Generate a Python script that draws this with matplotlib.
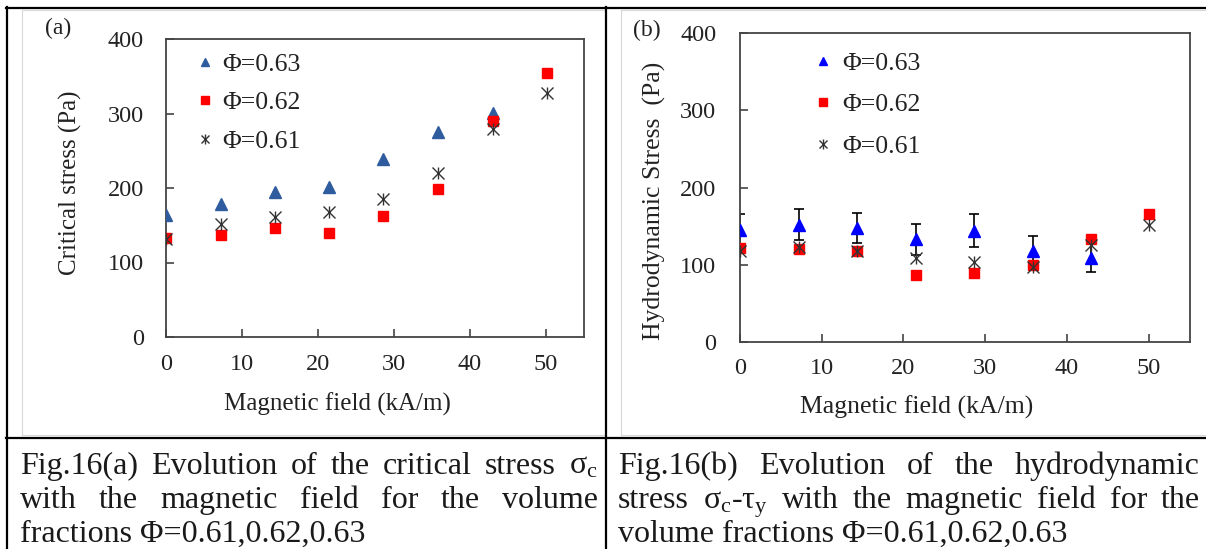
import matplotlib
matplotlib.use("Agg")
import matplotlib.pyplot as plt
from matplotlib.lines import Line2D

# ---- data ----
field = [0, 7.2, 14.3, 21.5, 28.6, 35.8, 43.0, 50.1]

# (a) critical stress
crit_063 = [164, 179, 194, 201, 239, 275, 301]
crit_062 = [133, 137, 146, 139, 163, 199, 290, 354]
crit_061 = [131, 152, 161, 168, 185, 220, 279, 328]

# (b) hydrodynamic stress
hyd_063 = [145, 152, 148, 133, 144, 117, 109]
hyd_063_err = [21, 19.5, 19.5, 20, 21, 20, 19]
hyd_062 = [122, 120, 117, 87, 89, 100, 133, 165]
hyd_061 = [117, 123, 118, 108, 103, 97, 126, 151]

legend_labels = ["Φ=0.63", "Φ=0.62", "Φ=0.61"]
xticks = [0, 10, 20, 30, 40, 50]
yticks = [0, 100, 200, 300, 400]

cap_a = [["Fig.16(a)", "Evolution", "of", "the", "critical", "stress", r"σ$_\mathrm{c}$"],
         ["with", "the", "magnetic", "field", "for", "the", "volume"],
         ["fractions", "Φ=0.61,0.62,0.63"]]
cap_b = [["Fig.16(b)", "Evolution", "of", "the", "hydrodynamic"],
         ["stress", r"σ$_\mathrm{c}$-τ$_\mathrm{y}$", "with", "the", "magnetic", "field", "for", "the"],
         ["volume", "fractions", "Φ=0.61,0.62,0.63"]]

SERIF = "Liberation Serif"
plt.rcParams["font.family"] = SERIF
plt.rcParams["mathtext.fontset"] = "custom"
plt.rcParams["mathtext.rm"] = SERIF
plt.rcParams["mathtext.it"] = SERIF + ":italic"

W, H = 1206, 549
fig = plt.figure(figsize=(W / 100, H / 100), dpi=100)


def fx(x):
    return x / W


def fy(y):
    return 1 - y / H


TXT = "#222222"
AXC = "#444444"
STAR = "#333333"
RED = "#FF0000"


def setup(ax, ypad, xpad):
    ax.set_xlim(0, 55)
    ax.set_ylim(0, 400)
    ax.set_xticks(xticks)
    ax.set_yticks(yticks)
    ax.tick_params(direction="in", length=6, width=1.2, color=AXC,
                   labelsize=17.5, labelcolor=TXT)
    ax.tick_params(axis="x", pad=xpad)
    ax.tick_params(axis="y", pad=ypad)
    for s in ax.spines.values():
        s.set_color(AXC)
        s.set_linewidth(1.3)


def stars(ax, x, y):
    a = ax.plot(x, y, ls="none", marker="x", ms=8, mew=1.0, color=STAR, zorder=4)[0]
    b = ax.plot(x, y, ls="none", marker="|", ms=9, mew=1.0, color=STAR, zorder=4)[0]
    return (a, b)


# ---------------- panel (a) ----------------
ax1 = fig.add_axes([fx(166), fy(337), fx(584 - 166), (337 - 39) / H])
setup(ax1, 16, 12)
h1 = ax1.plot(field[:len(crit_063)], crit_063, ls="none", marker="^", ms=8,
              color="#2E5C9E", zorder=3)[0]
h2 = ax1.plot(field, crit_062, ls="none", marker="s", ms=7.5, color=RED, zorder=3)[0]
h3 = stars(ax1, field, crit_061)
ax1.legend([h1, h2, h3], legend_labels, loc="upper left",
           bbox_to_anchor=(fx(195), fy(53)), bbox_transform=fig.transFigure,
           frameon=False, fontsize=18.5, handlelength=0.8, handletextpad=0.25,
           labelspacing=0.6, markerscale=0.8, borderaxespad=0, borderpad=0,
           labelcolor=TXT)

fig.text(fx(58), fy(28), "(a)", fontsize=17, color=TXT, ha="center", va="center")
fig.text(fx(70), fy(183), "Critical stress (Pa)", fontsize=18, color=TXT,
         rotation=90, ha="center", va="center")
fig.text(fx(337), fy(404), "Magnetic field (kA/m)", fontsize=18, color=TXT,
         ha="center", va="center")

# ---------------- panel (b) ----------------
ax2 = fig.add_axes([fx(740), fy(341.7), fx(1189.5 - 740), (341.7 - 33.3) / H])
setup(ax2, 17, 12)
ax2.errorbar(field[:len(hyd_063)], hyd_063, yerr=hyd_063_err, fmt="none",
             ecolor="black", elinewidth=1.2, capsize=3.5, capthick=1.2, zorder=2)
g1 = ax2.plot(field[:len(hyd_063)], hyd_063, ls="none", marker="^", ms=8,
              color="#0000FF", zorder=3)[0]
g2 = ax2.plot(field, hyd_062, ls="none", marker="s", ms=7.5, color=RED, zorder=3)[0]
g3 = stars(ax2, field, hyd_061)
ax2.legend([g1, g2, g3], legend_labels, loc="upper left",
           bbox_to_anchor=(fx(813), fy(52)), bbox_transform=fig.transFigure,
           frameon=False, fontsize=18.5, handlelength=0.8, handletextpad=0.35,
           labelspacing=0.72, markerscale=0.8, borderaxespad=0, borderpad=0,
           labelcolor=TXT)

fig.text(fx(647), fy(30), "(b)", fontsize=17, color=TXT, ha="center", va="center")
fig.text(fx(654), fy(201), "Hydrodynamic Stress  (Pa)", fontsize=18.5, color=TXT,
         rotation=90, ha="center", va="center")
fig.text(fx(917), fy(407), "Magnetic field (kA/m)", fontsize=18.5, color=TXT,
         ha="center", va="center")

# ---------------- table borders ----------------
def hline(y, x0, x1, c="black", lw=1.6):
    fig.add_artist(Line2D([fx(x0), fx(x1)], [fy(y), fy(y)], color=c, lw=lw))


def vline(x, y0, y1, c="black", lw=1.6):
    fig.add_artist(Line2D([fx(x), fx(x)], [fy(y0), fy(y1)], color=c, lw=lw))


GR = "#d8d8d8"
hline(9.5, 22, 606, GR, 0.8)
hline(435, 22, 604, GR, 0.8)
vline(22, 9.5, 435, GR, 0.8)
hline(9.5, 621, 1206, GR, 0.8)
hline(435, 621, 1206, GR, 0.8)
vline(621, 9.5, 435, GR, 0.8)

hline(8, 6.3, 1206)
hline(438, 6.3, 1206)
vline(7, 7.2, 549)
vline(606, 7.2, 549)

# ---------------- captions (justified) ----------------
CAP_FS = 23
renderer = fig.canvas.get_renderer()


def put_line(words, x0, x1, ybase, justify):
    texts = [fig.text(0, fy(ybase), w, fontsize=CAP_FS, color="#1a1a1a",
                      ha="left", va="baseline") for w in words]
    widths = [t.get_window_extent(renderer).width for t in texts]
    if justify and len(words) > 1:
        gap = (x1 - x0 - sum(widths)) / (len(words) - 1)
    else:
        gap = 0.25 * CAP_FS * 100 / 72
    x = x0
    for t, w in zip(texts, widths):
        t.set_x(fx(x))
        x += w + gap


baselines = [474, 508, 542]
for i, words in enumerate(cap_a):
    put_line(words, 20, 598, baselines[i], i < len(cap_a) - 1)
for i, words in enumerate(cap_b):
    put_line(words, 618, 1200, baselines[i], i < len(cap_b) - 1)

fig.savefig("out.png", dpi=100)
